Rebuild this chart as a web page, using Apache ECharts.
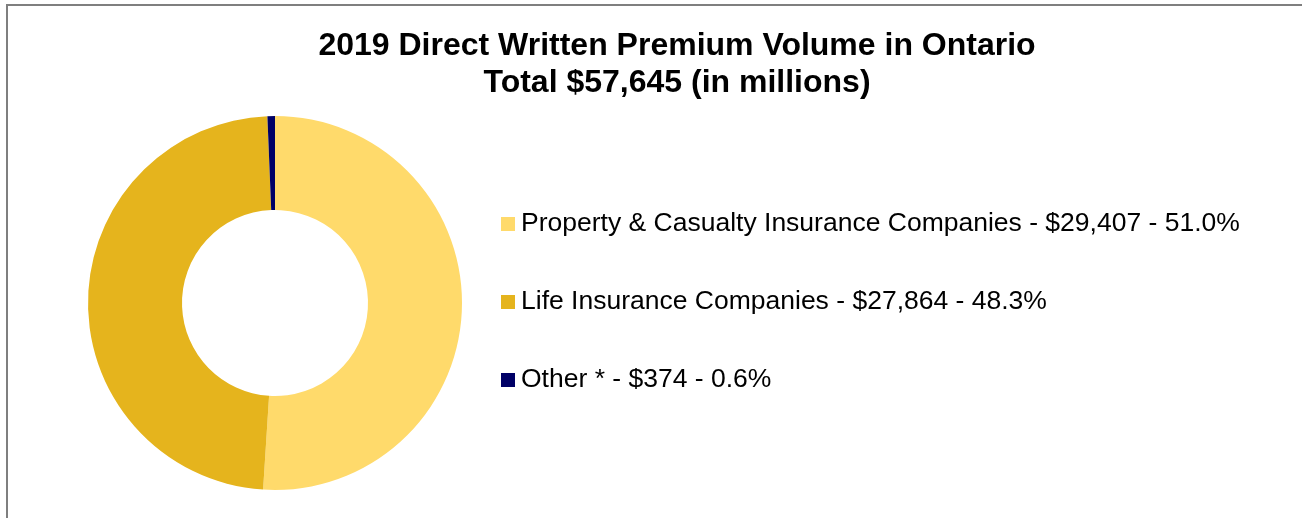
<!DOCTYPE html>
<html>
<head>
<meta charset="utf-8">
<script src="https://cdn.jsdelivr.net/npm/echarts@6/dist/echarts.min.js"></script>
<style>
  body { margin: 0; background: #fff; }
  #frame {
    position: absolute; left: 6px; top: 4px; width: 1400px; height: 600px;
    border-left: 2px solid #7f7f7f; border-top: 2px solid #7f7f7f;
  }
  #main { position: absolute; left: 0; top: 0; width: 1302px; height: 518px; }
</style>
</head>
<body>
<div id="frame"></div>
<div id="main"></div>
<script>
// slices, clockwise from 12 o'clock
var names = ['Property & Casualty Insurance Companies', 'Life Insurance Companies', 'Other *'];
var values = [29407, 27864, 374];
var shares = ['51.0%', '48.3%', '0.6%'];
var colors = ['#ffda6b', '#e5b41d', '#000066'];

var dom = document.getElementById('main');
var myChart = echarts.init(dom);

function money(v) {
    return '$' + v.toLocaleString('en-US');
}

var option = {
    backgroundColor: 'transparent',
    title: {
        text: '2019 Direct Written Premium Volume in Ontario\nTotal $57,645 (in millions)',
        left: 672,
        top: 23,
        textAlign: 'center',
        textStyle: {
            fontFamily: 'Liberation Sans, Arial, sans-serif',
            fontSize: 32,
            fontWeight: 'bold',
            color: '#000',
            lineHeight: 37
        }
    },
    legend: {
        orient: 'vertical',
        left: 496,
        top: 204,
        icon: 'rect',
        itemWidth: 14,
        itemHeight: 14,
        itemGap: 48,
        selectedMode: false,
        textStyle: {
            fontFamily: 'Liberation Sans, Arial, sans-serif',
            fontSize: 26.5,
            lineHeight: 30,
            color: '#000',
            padding: [0, 0, 0, 1]
        },
        formatter: function (name) {
            var i = names.indexOf(name);
            return name + ' - ' + money(values[i]) + ' - ' + shares[i];
        }
    },
    series: [
        {
            type: 'pie',
            center: [275, 303],
            radius: [93, 187],
            startAngle: 90,
            clockwise: true,
            label: { show: false },
            labelLine: { show: false },
            emphasis: { disabled: true },
            itemStyle: { borderWidth: 0 },
            data: names.map(function (n, i) {
                return { name: n, value: values[i], itemStyle: { color: colors[i] } };
            })
        }
    ]
};

myChart.setOption(option);
</script>
</body>
</html>
